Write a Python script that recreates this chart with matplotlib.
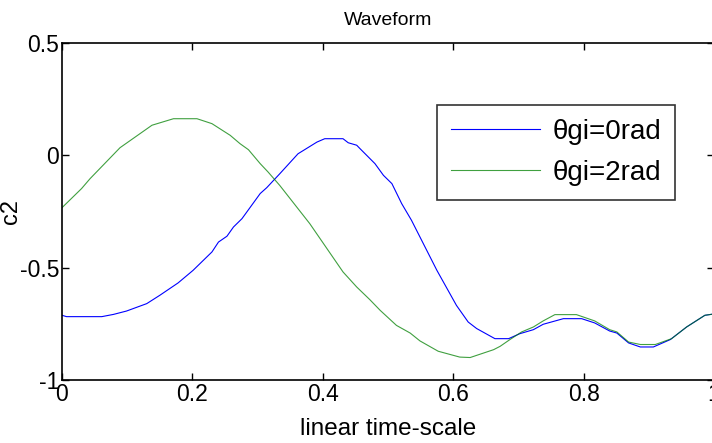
import matplotlib
matplotlib.use("Agg")
import matplotlib.pyplot as plt

plt.rcParams['font.family'] = ['Liberation Sans', 'DejaVu Sans']

# theta_gi = 0 rad
x0 = [0.0, 0.007, 0.061, 0.079, 0.099, 0.130, 0.150, 0.178, 0.201, 0.230, 0.240,
      0.253, 0.263, 0.276, 0.304, 0.314, 0.334, 0.362, 0.391, 0.403, 0.431, 0.439,
      0.452, 0.457, 0.480, 0.493, 0.506, 0.521, 0.536, 0.575, 0.605, 0.623, 0.636,
      0.664, 0.685, 0.702, 0.723, 0.738, 0.769, 0.797, 0.817, 0.840, 0.851, 0.869,
      0.887, 0.907, 0.933, 0.958, 0.986, 1.0]
y0 = [-0.712, -0.718, -0.718, -0.708, -0.693, -0.660, -0.623, -0.568, -0.512, -0.430,
      -0.386, -0.360, -0.319, -0.282, -0.170, -0.144, -0.082, 0.007, 0.059, 0.074,
      0.074, 0.056, 0.045, 0.030, -0.037, -0.089, -0.126, -0.215, -0.289, -0.512,
      -0.668, -0.742, -0.771, -0.816, -0.816, -0.794, -0.776, -0.752, -0.727, -0.727,
      -0.746, -0.782, -0.791, -0.835, -0.853, -0.853, -0.820, -0.764, -0.712, -0.706]

# theta_gi = 2 rad
x2 = [0.0, 0.030, 0.043, 0.089, 0.138, 0.171, 0.207, 0.230, 0.258, 0.273, 0.286,
      0.304, 0.316, 0.334, 0.380, 0.431, 0.452, 0.472, 0.488, 0.513, 0.534, 0.549,
      0.577, 0.610, 0.626, 0.662, 0.672, 0.687, 0.705, 0.723, 0.738, 0.756, 0.789,
      0.817, 0.840, 0.851, 0.869, 0.887, 0.910, 0.935, 0.958, 0.986, 1.0]
y2 = [-0.233, -0.148, -0.104, 0.034, 0.134, 0.163, 0.163, 0.141, 0.089, 0.052, 0.025,
      -0.037, -0.074, -0.134, -0.304, -0.519, -0.586, -0.642, -0.690, -0.757, -0.791,
      -0.826, -0.872, -0.898, -0.900, -0.865, -0.850, -0.820, -0.786, -0.764, -0.737,
      -0.709, -0.709, -0.737, -0.776, -0.786, -0.831, -0.842, -0.842, -0.816, -0.764,
      -0.712, -0.706]

xticks = [0, 0.2, 0.4, 0.6, 0.8, 1]
xticklabels = ['0', '0.2', '0.4', '0.6', '0.8', '1']
yticks = [-1, -0.5, 0, 0.5]
yticklabels = ['-1', '-0.5', '0', '0.5']

fig = plt.figure(figsize=(7.12, 4.43), dpi=100)
ax = fig.add_axes([62/712, 1-380/443, 652/712, 337/443])
ax.plot(x0, y0, color=(0, 0, 1), lw=0.8, label='θgi=0rad')
ax.plot(x2, y2, color=(0, 0.5, 0), lw=0.8, alpha=0.75, label='θgi=2rad')
ax.set_xlim(0, 1)
ax.set_ylim(-1, 0.5)
ax.set_xticks(xticks)
ax.set_xticklabels(xticklabels)
ax.set_yticks(yticks)
ax.set_yticklabels(yticklabels)
ax.tick_params(direction='in', length=5, width=1, top=True, right=True,
               labelsize=16.5, pad=2)
for s in ax.spines.values():
    s.set_linewidth(1.2)
ax.set_title('Waveform', fontsize=14, pad=13)
ax.set_xlabel('linear time-scale', fontsize=17.5, labelpad=9)
ax.set_ylabel('c2', fontsize=17, labelpad=-2)
leg = ax.legend(loc='upper left', bbox_to_anchor=((437-62)/652, (380-105)/337),
                borderaxespad=0, fontsize=20, frameon=True, fancybox=False,
                edgecolor='black', handlelength=3.2, borderpad=0.5,
                labelspacing=0.55, handletextpad=0.45)
leg.get_frame().set_linewidth(1.2)
fig.savefig('out.png', dpi=100)
